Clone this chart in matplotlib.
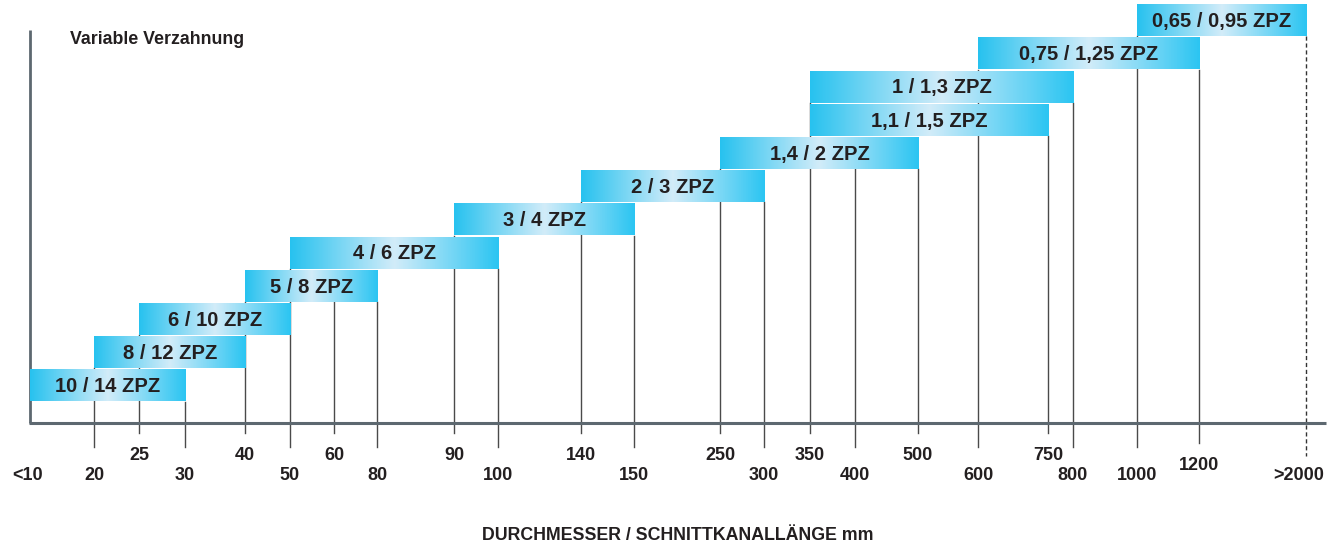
"""
Variable Verzahnung — ZPZ ranges by diameter / cut channel length.
Stepped range bars with a cyan gradient over a categorical mm axis.
"""

import numpy as np
import matplotlib
matplotlib.use("Agg")
import matplotlib.pyplot as plt
from matplotlib.colors import LinearSegmentedColormap

# ── data ──────────────────────────────────────────────────────────────────────
TICK_LABELS = ["<10", "20", "25", "30", "40", "50", "60", "80", "90", "100",
               "140", "150", "250", "300", "350", "400", "500", "600", "750",
               "800", "1000", "1200", ">2000"]
TICK_ROW = ["lo", "lo", "hi", "lo", "hi", "lo", "hi", "lo", "hi", "lo",
            "hi", "lo", "hi", "lo", "hi", "lo", "hi", "lo", "hi",
            "lo", "lo", "mid", "lo"]

BAR_LABELS = ["10 / 14 ZPZ", "8 / 12 ZPZ", "6 / 10 ZPZ", "5 / 8 ZPZ",
              "4 / 6 ZPZ", "3 / 4 ZPZ", "2 / 3 ZPZ", "1,4 / 2 ZPZ",
              "1,1 / 1,5 ZPZ", "1 / 1,3 ZPZ", "0,75 / 1,25 ZPZ",
              "0,65 / 0,95 ZPZ"]
BAR_FROM = ["<10", "20", "25", "40", "50", "90", "140", "250", "350", "350",
            "600", "1000"]
BAR_TO = ["30", "40", "50", "80", "100", "150", "300", "500", "750", "800",
          "1200", ">2000"]

# ── layout (pixel space of the 1339 x 546 canvas) ─────────────────────────────
TICK_X = [30, 94, 139, 185, 245, 290, 334, 377, 454, 498, 581, 634, 720, 764,
          810, 855, 918, 978, 1048, 1073, 1137, 1199, 1306]
AXIS_Y = 423
LEVEL0_TOP, LEVEL_STEP, BAR_H = 370, 33.2, 31.5
ROW_TEXT_Y = {"hi": 455, "mid": 465, "lo": 476}
ROW_TICK_END = {"hi": 433, "mid": 443, "lo": 447}

TEXT = "#231f20"
AXIS_COL = "#5d6870"
TICK_COL = "#4a4a4a"
FONT = "Liberation Sans"

cmap = LinearSegmentedColormap.from_list(
    "zpz", [(0.0, "#27c2ef"), (0.5, "#d2ecf9"), (1.0, "#2bc5f2")])

xpos = dict(zip(TICK_LABELS, TICK_X))


def bar_top(level):
    return LEVEL0_TOP - level * LEVEL_STEP


fig = plt.figure(figsize=(13.39, 5.46), dpi=100)
ax = fig.add_axes([0, 0, 1, 1])
ax.axis("off")

# ── bars ──────────────────────────────────────────────────────────────────────
grad = np.tile(np.linspace(0, 1, 512), (2, 1))
for lvl, (lab, a, b) in enumerate(zip(BAR_LABELS, BAR_FROM, BAR_TO)):
    x0, x1 = xpos[a], xpos[b] + 1
    y0 = bar_top(lvl)
    ax.imshow(grad, cmap=cmap, extent=[x0, x1, y0 + BAR_H, y0],
              aspect="auto", interpolation="nearest", zorder=3)
    ax.text((x0 + x1) / 2, y0 + BAR_H / 2 + 1, lab, ha="center", va="center",
            fontsize=14.5, fontweight="bold", color=TEXT, family=FONT, zorder=5)

# ── tick lines: up to the bottom of the highest bar that starts/ends there ────
for i, (lab, x, row) in enumerate(zip(TICK_LABELS, TICK_X, TICK_ROW)):
    ends = [lvl for lvl in range(len(BAR_LABELS))
            if lab in (BAR_FROM[lvl], BAR_TO[lvl])]
    if ends:
        top = bar_top(max(ends)) + BAR_H
    else:
        cover = [lvl for lvl in range(len(BAR_LABELS))
                 if xpos[BAR_FROM[lvl]] < x < xpos[BAR_TO[lvl]]]
        top = bar_top(min(cover)) + BAR_H
    if i > 0:
        dashed = lab.startswith(">")
        ax.plot([x, x], [top, ROW_TICK_END[row] + (9 if dashed else 0)],
                color="#333333" if dashed else TICK_COL, linewidth=1.0,
                linestyle=(0, (3, 2)) if dashed else "-", zorder=2)
    tx = x - 2 if lab.startswith("<") else x - 7 if lab.startswith(">") else x
    ax.text(tx, ROW_TEXT_Y[row], lab, ha="center", va="center", fontsize=13,
            fontweight="bold", color=TEXT, family=FONT)

# ── axes lines ────────────────────────────────────────────────────────────────
ax.plot([29, 1326], [AXIS_Y, AXIS_Y], color=AXIS_COL, linewidth=2.2,
        solid_capstyle="butt", zorder=2.5)
ax.plot([30, 30], [30, AXIS_Y], color=AXIS_COL, linewidth=2.0,
        solid_capstyle="butt", zorder=2.5)

ax.text(70, 40, "Variable Verzahnung", ha="left", va="center", fontsize=12.8,
        fontweight="bold", color=TEXT, family=FONT)
ax.text(678, 536, "DURCHMESSER / SCHNITTKANALLÄNGE mm", ha="center",
        va="center", fontsize=12.8, fontweight="bold", color=TEXT, family=FONT)

ax.set_xlim(0, 1339)
ax.set_ylim(546, 0)

fig.savefig("out.png", dpi=100)
